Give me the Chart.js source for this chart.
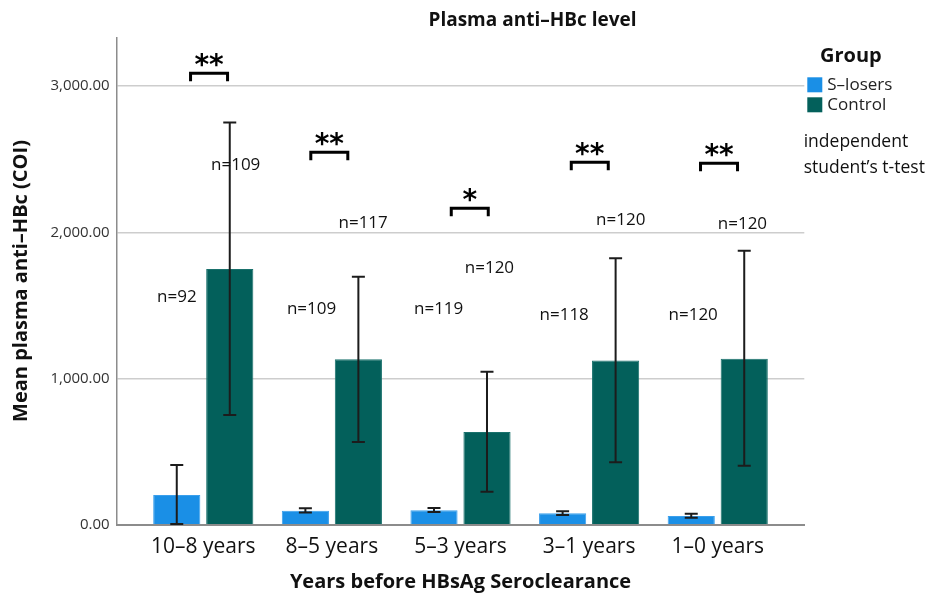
<!DOCTYPE html>
<html><head><meta charset="utf-8">
<style>html,body{margin:0;padding:0;background:#fff;}#wrap{width:941px;height:596px;position:relative;}</style>
<script src="https://cdn.jsdelivr.net/npm/chart.js@4.4.1/dist/chart.umd.min.js"></script>
</head><body><div id="wrap"><canvas id="c" width="941" height="596"></canvas></div>
<script>
// ---- data ----
const categories = ['10–8 years', '8–5 years', '5–3 years', '3–1 years', '1–0 years'];
const groups = ['S–losers', 'Control'];
const sLosersMean = [203, 96, 98, 78, 60];
const sLosersLow  = [5, 83, 87, 66, 48];
const sLosersHigh = [408, 112, 114, 92, 75];
const controlMean = [1749, 1131, 634, 1124, 1136];
const controlLow  = [750, 566, 226, 427, 404];
const controlHigh = [2752, 1696, 1047, 1822, 1874];
const sLosersN = [92, 109, 119, 118, 120];
const controlN = [109, 117, 120, 120, 120];
const significance = ['**', '**', '*', '**', '**'];
const yTicks = [0, 1000, 2000, 3000];
const yMax = 3334;

// ---- layout of annotations (category offset, value) ----
const sLosersNPos = [{dx:-0.205,y:1559},{dx:-0.158,y:1473},{dx:-0.170,y:1473},{dx:-0.194,y:1434},{dx:-0.191,y:1430}];
const controlNPos = [{dx:0.252,y:2462},{dx:0.243,y:2066},{dx:0.225,y:1758},{dx:0.246,y:2080},{dx:0.192,y:2055}];
const bracketPos  = [{dx:0.045,y:3088},{dx:-0.020,y:2548},{dx:0.072,y:2165},{dx:0.005,y:2479},{dx:0.010,y:2473}];

const colors = { s: '#1a8fe6', sBorder: '#3a9fec', c: '#03605b', cBorder: '#1a716c' };
const FONT = '"Open Sans", "DejaVu Sans", sans-serif';
Chart.defaults.font.family = FONT;

const annPlugin = {
  id: 'ann',
  afterDatasetsDraw(chart) {
    const ctx = chart.ctx, y = chart.scales.y;
    const sets = [[sLosersLow, sLosersHigh], [controlLow, controlHigh]];
    const cap = 6.5;
    ctx.save();
    ctx.strokeStyle = '#1c1c1c'; ctx.lineWidth = 2;
    sets.forEach((s, di) => {
      chart.getDatasetMeta(di).data.forEach((bar, i) => {
        const x = bar.x, y1 = y.getPixelForValue(s[0][i]), y2 = y.getPixelForValue(s[1][i]);
        ctx.beginPath();
        ctx.moveTo(x, y1); ctx.lineTo(x, y2);
        ctx.moveTo(x - cap, y1); ctx.lineTo(x + cap, y1);
        ctx.moveTo(x - cap, y2); ctx.lineTo(x + cap, y2);
        ctx.stroke();
      });
    });
    ctx.restore();
  },
  afterDraw(chart) {
    const ctx = chart.ctx, xs = chart.scales.x, ys = chart.scales.y;
    ctx.save();
    // title
    ctx.fillStyle = '#111';
    ctx.font = 'bold 19px ' + FONT;
    ctx.textAlign = 'center'; ctx.textBaseline = 'middle';
    ctx.fillText('Plasma anti–HBc level', 532.5, 21);
    // legend
    ctx.textAlign = 'left';
    ctx.font = 'bold 20px ' + FONT;
    ctx.fillText('Group', 820, 56);
    ctx.font = '17px ' + FONT;
    [[colors.s, groups[0], 77.3], [colors.c, groups[1], 97.3]].forEach(([col, lab, top]) => {
      ctx.fillStyle = col; ctx.fillRect(807.3, top, 15, 15);
      ctx.fillStyle = '#222'; ctx.fillText(lab, 827.3, top + 8);
    });
    // note
    ctx.fillStyle = '#111';
    ctx.font = '17.5px ' + FONT;
    ctx.fillText('independent', 803.7, 142.3);
    ctx.fillText('student\u2019s t-test', 803.7, 168.3);
    // n labels
    ctx.textAlign = 'center';
    ctx.font = '17px ' + FONT;
    ctx.fillStyle = '#111';
    categories.forEach((c, i) => {
      const p1 = sLosersNPos[i], p2 = controlNPos[i];
      ctx.fillText('n=' + sLosersN[i], xs.getPixelForValue(i + p1.dx), ys.getPixelForValue(p1.y));
      ctx.fillText('n=' + controlN[i], xs.getPixelForValue(i + p2.dx), ys.getPixelForValue(p2.y));
    });
    // brackets + stars
    ctx.strokeStyle = '#000'; ctx.lineWidth = 3; ctx.lineJoin = 'miter'; ctx.lineCap = 'butt';
    ctx.font = 'bold 28px "DejaVu Sans", sans-serif';
    ctx.textBaseline = 'alphabetic';
    categories.forEach((c, i) => {
      const b = bracketPos[i];
      const cx = xs.getPixelForValue(i + b.dx), ty = ys.getPixelForValue(b.y);
      const hw = 18.5, leg = 8;
      ctx.beginPath();
      ctx.moveTo(cx - hw, ty + leg); ctx.lineTo(cx - hw, ty); ctx.lineTo(cx + hw, ty); ctx.lineTo(cx + hw, ty + leg);
      ctx.stroke();
      const m = ctx.measureText(significance[i]);
      const target = ty - 13.5;
      const base = target + (m.actualBoundingBoxAscent - m.actualBoundingBoxDescent) / 2;
      ctx.fillStyle = '#000';
      ctx.fillText(significance[i], cx, base);
    });
    ctx.restore();
  }
};

new Chart(document.getElementById('c'), {
  type: 'bar',
  data: {
    datasets: [
      { label: groups[0], data: sLosersMean.map((v, i) => ({ x: i, y: v })),
        backgroundColor: colors.s, borderColor: colors.sBorder, borderWidth: 1 },
      { label: groups[1], data: controlMean.map((v, i) => ({ x: i, y: v })),
        backgroundColor: colors.c, borderColor: colors.cBorder, borderWidth: 1 }
    ]
  },
  options: {
    responsive: false, animation: false, devicePixelRatio: 1,
    categoryPercentage: 0.824, barPercentage: 0.89,
    layout: { padding: { top: 37.3, right: 136.7, left: 0, bottom: 0 } },
    plugins: { legend: { display: false }, title: { display: false }, tooltip: { enabled: false } },
    scales: {
      x: {
        type: 'linear', min: -0.673, max: 4.673, offset: false,
        grid: { display: false, offset: false },
        border: { display: true, color: '#8c8c8c', width: 2 },
        afterBuildTicks: s => { s.ticks = categories.map((c, i) => ({ value: i })); },
        afterFit: s => { s.height = 71.3; },
        ticks: { autoSkip: false, maxRotation: 0, padding: 2, color: '#111',
          font: { size: 21 }, callback: v => categories[v] },
        title: { display: true, text: 'Years before HBsAg Seroclearance', color: '#111',
          font: { size: 20, weight: 'bold' }, padding: { top: 0, bottom: 2 } }
      },
      y: {
        min: 0, max: yMax,
        grid: { color: '#cdcdcd', lineWidth: 1.5, drawTicks: false },
        border: { display: true, color: '#8c8c8c', width: 1.5 },
        afterBuildTicks: s => { s.ticks = yTicks.map(v => ({ value: v })); },
        afterFit: s => { s.width = 116.7; },
        ticks: { padding: 7, color: '#333', font: { size: 15 },
          callback: v => v.toLocaleString('en-US', { minimumFractionDigits: 2, maximumFractionDigits: 2 }) },
        title: { display: true, text: 'Mean plasma anti–HBc (COI)', color: '#111',
          font: { size: 20, weight: 'bold' }, padding: { top: 9, bottom: 0 } }
      }
    }
  },
  plugins: [annPlugin]
});
</script></body></html>
